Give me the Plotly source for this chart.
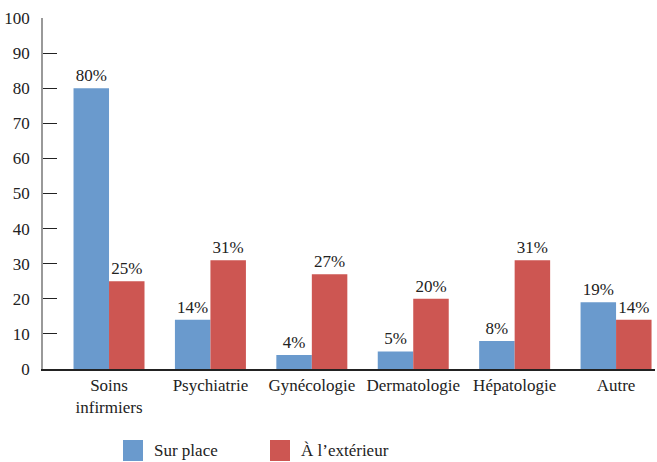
import plotly.graph_objects as go

categories = ["Soins<br>infirmiers", "Psychiatrie", "Gynécologie", "Dermatologie", "Hépatologie", "Autre"]
sur_place = [80, 14, 4, 5, 8, 19]
exterieur = [25, 31, 27, 20, 31, 14]
y_ticks = [0, 10, 20, 30, 40, 50, 60, 70, 80, 90, 100]
series = [("Sur place", sur_place, "#6A9ACD"), ("À l’extérieur", exterieur, "#CD5652")]

FONT = "Georgia, 'Liberation Serif', 'DejaVu Serif', serif"
W, H = 657, 462
ML, MR, MT, MB = 43, 2, 18, 93

fig = go.Figure()
for name, vals, color in series:
    fig.add_trace(go.Bar(
        x=categories,
        y=vals,
        name=name,
        marker=dict(color=color, line=dict(width=0)),
        text=[f"{v}%" for v in vals],
        textposition="outside",
        textfont=dict(family=FONT, size=17, color="#222"),
        cliponaxis=False,
        showlegend=False,
    ))

# légende dessinée à la main (carrés plus grands que ceux de plotly)
plot_w = W - ML - MR
plot_h = H - MT - MB
leg_x = [123, 270]
leg_yc = 450
for (name, _, color), px in zip(series, leg_x):
    x0 = (px - ML) / plot_w
    x1 = (px + 20 - ML) / plot_w
    y0 = (H - MB - (leg_yc + 11)) / plot_h
    y1 = (H - MB - (leg_yc - 10)) / plot_h
    fig.add_shape(type="rect", xref="paper", yref="paper",
                  x0=x0, x1=x1, y0=y0, y1=y1,
                  fillcolor=color, line=dict(width=0))
    fig.add_annotation(xref="paper", yref="paper",
                       x=(px + 29 - ML) / plot_w, y=(H - MB - leg_yc) / plot_h,
                       xanchor="left", yanchor="middle", showarrow=False,
                       text=name, font=dict(family=FONT, size=17, color="#222"))

fig.update_layout(
    width=W,
    height=H,
    margin=dict(l=ML, r=MR, t=MT, b=MB),
    plot_bgcolor="white",
    paper_bgcolor="white",
    barmode="group",
    bargap=0.30,
    bargroupgap=0,
    font=dict(family=FONT, size=17, color="#222"),
    xaxis=dict(
        range=[-0.651, 5.384],
        showline=True,
        linecolor="#222",
        linewidth=1.5,
        ticks="",
        automargin=False,
    ),
    yaxis=dict(
        range=[0, 100],
        tickvals=y_ticks,
        showgrid=False,
        zeroline=False,
        showline=True,
        linecolor="#999",
        linewidth=1.5,
        ticks="inside",
        ticklen=14,
        tickcolor="#222",
        ticklabelstandoff=8,
        automargin=False,
    ),
    showlegend=False,
)

# la page ajoute une marge de 8 px autour du graphique : on la retire
fig.write_html(
    "out.html",
    config={"displayModeBar": False},
    post_script="document.body.style.margin='0';",
)
